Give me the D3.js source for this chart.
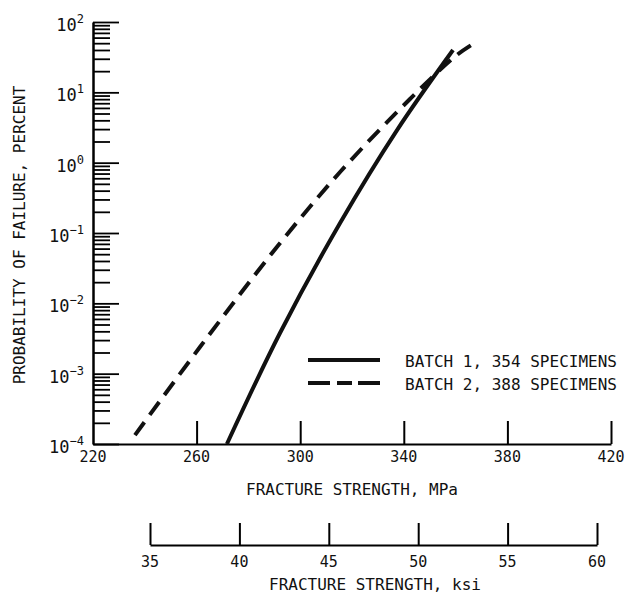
<!DOCTYPE html>
<html>
<head>
<meta charset="utf-8">
<script src="https://cdn.jsdelivr.net/npm/d3@7"></script>
<style>
  body { margin: 0; background: #fff; }
  text { font-family: "DejaVu Sans Mono", monospace; fill: #111; }
</style>
</head>
<body>
<svg id="chart"></svg>
<script>
// fracture strength (MPa) vs probability of failure (percent)
const batch1Strength = [271.7, 292.2, 315.4, 337.4, 359.0];
const batch1Percent = [1.0e-4, 3.79e-3, 0.139, 2.91, 40.0];
const batch2Strength = [236.2, 261.3, 291.0, 315.4, 342.4, 360.5, 368.6];
const batch2Percent = [1.34e-4, 2.39e-3, 0.0632, 0.736, 8.04, 34.0, 53.7];

const seriesNames = ["BATCH 1, 354 SPECIMENS", "BATCH 2, 388 SPECIMENS"];
const mpaTicks = [220, 260, 300, 340, 380, 420];
const ksiTicks = [35, 40, 45, 50, 55, 60];
const decades = [-4, -3, -2, -1, 0, 1, 2];

const width = 638,
  height = 596;

const svg = d3
  .select("#chart")
  .attr("width", width)
  .attr("height", height);

const x = d3.scaleLinear().domain([220, 420]).range([93, 611]);
const y = d3.scaleLog().domain([1e-4, 100]).range([444, 22]);
const xKsi = d3.scaleLinear().domain([35, 60]).range([150, 597]);

// y axis, ticks pointing into the plot
const yAxis = svg
  .append("g")
  .attr("transform", "translate(93,0)")
  .call(d3.axisRight(y).tickValues(y.ticks()).tickSize(17).tickSizeOuter(0).tickFormat(""));
yAxis.select(".domain").attr("stroke-width", 2.5);
yAxis
  .selectAll(".tick line")
  .attr("stroke-width", 1.8)
  .attr("x2", (d) => (Math.abs(Math.log10(d) - Math.round(Math.log10(d))) < 1e-9 ? 26 : 17));

const yLabels = svg
  .append("g")
  .selectAll("text")
  .data(decades)
  .join("text")
  .attr("x", 84)
  .attr("y", (d) => y(Math.pow(10, d)) + 9)
  .attr("text-anchor", "end")
  .style("font-size", "17px");
yLabels.append("tspan").text("10");
yLabels
  .append("tspan")
  .attr("dy", -8)
  .style("font-size", "12px")
  .text((d) => (d < 0 ? "\u2212" + Math.abs(d) : d));

svg
  .append("text")
  .attr("transform", "translate(25,235) rotate(-90)")
  .attr("text-anchor", "middle")
  .style("font-size", "16px")
  .text("PROBABILITY OF FAILURE, PERCENT");

// MPa axis
const xAxis = svg
  .append("g")
  .attr("transform", "translate(0,444)")
  .call(d3.axisTop(x).tickValues(mpaTicks.slice(1)).tickSize(23).tickSizeOuter(0).tickFormat(""));
xAxis.select(".domain").attr("stroke-width", 2.2);
xAxis.selectAll(".tick line").attr("stroke-width", 2);

svg
  .append("g")
  .selectAll("text")
  .data(mpaTicks)
  .join("text")
  .attr("x", (d) => x(d))
  .attr("y", 462)
  .attr("text-anchor", "middle")
  .style("font-size", "15px")
  .text((d) => d);

svg
  .append("text")
  .attr("x", 352)
  .attr("y", 495)
  .attr("text-anchor", "middle")
  .style("font-size", "16px")
  .text("FRACTURE STRENGTH, MPa");

// ksi axis
const ksiAxis = svg
  .append("g")
  .attr("transform", "translate(0,545)")
  .call(d3.axisTop(xKsi).tickValues(ksiTicks).tickSize(22).tickSizeOuter(0).tickFormat(""));
ksiAxis.select(".domain").attr("stroke-width", 2);
ksiAxis.selectAll(".tick line").attr("stroke-width", 2);

svg
  .append("g")
  .selectAll("text")
  .data(ksiTicks)
  .join("text")
  .attr("x", (d) => xKsi(d))
  .attr("y", 567)
  .attr("text-anchor", "middle")
  .style("font-size", "15px")
  .text((d) => d);

svg
  .append("text")
  .attr("x", 375)
  .attr("y", 590)
  .attr("text-anchor", "middle")
  .style("font-size", "16px")
  .text("FRACTURE STRENGTH, ksi");

// curves
const line = d3
  .line()
  .x((d) => x(d[0]))
  .y((d) => y(d[1]))
  .curve(d3.curveCatmullRom);

svg
  .append("path")
  .datum(d3.zip(batch1Strength, batch1Percent))
  .attr("d", line)
  .attr("fill", "none")
  .attr("stroke", "#111")
  .attr("stroke-width", 4);

svg
  .append("path")
  .datum(d3.zip(batch2Strength, batch2Percent))
  .attr("d", line)
  .attr("fill", "none")
  .attr("stroke", "#111")
  .attr("stroke-width", 4)
  .attr("stroke-dasharray", "16,9");

// legend
const legend = svg
  .append("g")
  .selectAll("g")
  .data(seriesNames)
  .join("g")
  .attr("transform", (d, i) => `translate(308,${360 + i * 23})`);
legend
  .append("line")
  .attr("x1", 0)
  .attr("x2", 72)
  .attr("stroke", "#111")
  .attr("stroke-width", 4)
  .attr("stroke-dasharray", (d, i) => (i ? "22,7,15,6" : null));
legend
  .append("text")
  .attr("x", 97)
  .attr("y", 7)
  .style("font-size", "16px")
  .text((d) => d);
</script>
</body>
</html>
